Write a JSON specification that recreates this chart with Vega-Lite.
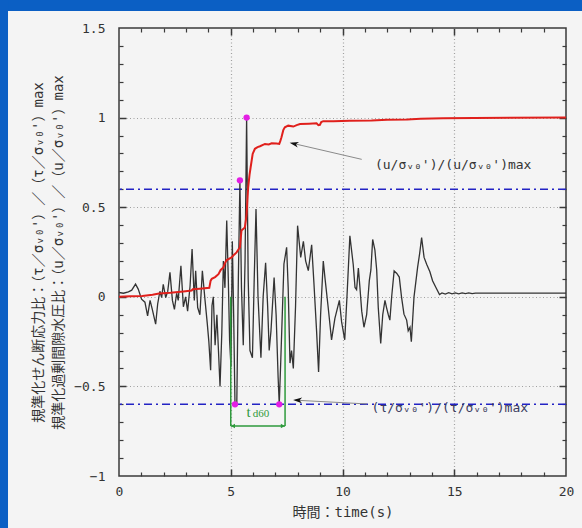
{
  "$schema": "https://vega.github.io/schema/vega-lite/v6.json",
  "width": 447,
  "height": 448,
  "autosize": {"type": "none"},
  "padding": {"left": 119, "top": 28, "right": 16, "bottom": 52},
  "background": "#f4f4f4",
  "config": {
    "view": {"stroke": "#3a3a3a", "strokeWidth": 1.5},
    "axis": {
      "domain": false,
      "grid": false,
      "labels": false,
      "ticks": false,
      "tickColor": "#3a3a3a",
      "gridColor": "#a0a0a0",
      "gridDash": [1, 2.5],
      "gridWidth": 1.2,
      "labelFont": "DejaVu Sans Mono",
      "labelFontSize": 13,
      "labelColor": "#333333",
      "labelFlush": false,
      "labelOverlap": false,
      "titleFont": "DejaVu Sans Mono, Noto Sans CJK JP",
      "titleFontSize": 14,
      "titleFontWeight": "normal",
      "titleColor": "#333333"
    }
  },
  "datasets": {
    "stress": [
      {"t": 0.0, "v": 0.024}, {"t": 0.2, "v": 0.02}, {"t": 0.42, "v": 0.028}, {"t": 0.57, "v": 0.037},
      {"t": 0.74, "v": 0.071}, {"t": 0.86, "v": 0.043}, {"t": 1.01, "v": -0.013}, {"t": 1.16, "v": -0.03},
      {"t": 1.28, "v": -0.106}, {"t": 1.39, "v": -0.02}, {"t": 1.49, "v": -0.07}, {"t": 1.64, "v": -0.153},
      {"t": 1.73, "v": -0.04}, {"t": 1.83, "v": 0.031}, {"t": 1.91, "v": -0.004}, {"t": 1.98, "v": 0.07},
      {"t": 2.09, "v": -0.004}, {"t": 2.18, "v": 0.03}, {"t": 2.28, "v": 0.136}, {"t": 2.39, "v": -0.02},
      {"t": 2.48, "v": -0.07}, {"t": 2.58, "v": 0.02}, {"t": 2.65, "v": -0.02}, {"t": 2.77, "v": 0.173},
      {"t": 2.88, "v": -0.056}, {"t": 2.98, "v": 0.0}, {"t": 3.07, "v": -0.08}, {"t": 3.18, "v": 0.06},
      {"t": 3.27, "v": 0.266}, {"t": 3.37, "v": -0.02}, {"t": 3.43, "v": 0.145}, {"t": 3.52, "v": -0.06},
      {"t": 3.62, "v": -0.1}, {"t": 3.73, "v": 0.145}, {"t": 3.85, "v": -0.02}, {"t": 3.95, "v": -0.15},
      {"t": 4.02, "v": -0.25}, {"t": 4.1, "v": -0.41}, {"t": 4.16, "v": -0.05}, {"t": 4.22, "v": 0.0},
      {"t": 4.3, "v": -0.27}, {"t": 4.38, "v": -0.1}, {"t": 4.45, "v": -0.3}, {"t": 4.52, "v": -0.5},
      {"t": 4.6, "v": -0.2}, {"t": 4.67, "v": 0.2}, {"t": 4.74, "v": 0.05}, {"t": 4.82, "v": 0.425},
      {"t": 4.89, "v": 0.1}, {"t": 4.95, "v": -0.25}, {"t": 5.01, "v": -0.39}, {"t": 5.07, "v": 0.31},
      {"t": 5.13, "v": -0.1}, {"t": 5.19, "v": -0.6}, {"t": 5.27, "v": -0.6}, {"t": 5.34, "v": 0.1},
      {"t": 5.41, "v": 0.645}, {"t": 5.48, "v": 0.05}, {"t": 5.56, "v": -0.27}, {"t": 5.64, "v": 0.2},
      {"t": 5.71, "v": 1.0}, {"t": 5.78, "v": 0.1}, {"t": 5.86, "v": -0.3}, {"t": 5.97, "v": -0.34},
      {"t": 6.05, "v": 0.1}, {"t": 6.13, "v": 0.49}, {"t": 6.22, "v": 0.0}, {"t": 6.35, "v": -0.34},
      {"t": 6.45, "v": 0.0}, {"t": 6.56, "v": 0.19}, {"t": 6.65, "v": -0.05}, {"t": 6.72, "v": -0.3},
      {"t": 6.8, "v": -0.19}, {"t": 6.94, "v": 0.108}, {"t": 7.03, "v": -0.1}, {"t": 7.12, "v": -0.45},
      {"t": 7.17, "v": -0.6}, {"t": 7.24, "v": -0.35}, {"t": 7.38, "v": 0.183}, {"t": 7.5, "v": 0.276},
      {"t": 7.57, "v": 0.05}, {"t": 7.65, "v": -0.37}, {"t": 7.72, "v": -0.3}, {"t": 7.8, "v": -0.4},
      {"t": 7.9, "v": -0.05}, {"t": 7.99, "v": 0.397}, {"t": 8.13, "v": 0.22}, {"t": 8.25, "v": 0.31},
      {"t": 8.35, "v": 0.2}, {"t": 8.47, "v": 0.146}, {"t": 8.62, "v": 0.29}, {"t": 8.72, "v": 0.08},
      {"t": 8.84, "v": -0.19}, {"t": 8.93, "v": -0.42}, {"t": 9.02, "v": -0.1}, {"t": 9.14, "v": 0.2},
      {"t": 9.22, "v": 0.1}, {"t": 9.36, "v": -0.06}, {"t": 9.51, "v": -0.24}, {"t": 9.66, "v": -0.12},
      {"t": 9.86, "v": -0.02}, {"t": 9.96, "v": -0.14}, {"t": 10.1, "v": -0.24}, {"t": 10.2, "v": 0.0},
      {"t": 10.33, "v": 0.34}, {"t": 10.48, "v": 0.18}, {"t": 10.56, "v": 0.052}, {"t": 10.63, "v": 0.04},
      {"t": 10.71, "v": 0.16}, {"t": 10.78, "v": 0.052}, {"t": 10.86, "v": -0.08}, {"t": 10.96, "v": -0.17},
      {"t": 11.08, "v": -0.1}, {"t": 11.2, "v": 0.09}, {"t": 11.27, "v": 0.15}, {"t": 11.35, "v": 0.32},
      {"t": 11.45, "v": 0.26}, {"t": 11.53, "v": 0.15}, {"t": 11.6, "v": -0.06}, {"t": 11.71, "v": -0.26},
      {"t": 11.8, "v": -0.1}, {"t": 11.9, "v": -0.02}, {"t": 11.97, "v": -0.06}, {"t": 12.05, "v": -0.1},
      {"t": 12.12, "v": -0.13}, {"t": 12.2, "v": 0.0}, {"t": 12.31, "v": 0.145}, {"t": 12.43, "v": 0.13},
      {"t": 12.54, "v": 0.11}, {"t": 12.64, "v": 0.0}, {"t": 12.75, "v": -0.097}, {"t": 12.87, "v": -0.13},
      {"t": 12.94, "v": -0.19}, {"t": 13.02, "v": -0.17}, {"t": 13.08, "v": -0.25}, {"t": 13.2, "v": 0.0},
      {"t": 13.36, "v": 0.164}, {"t": 13.45, "v": 0.24}, {"t": 13.54, "v": 0.33}, {"t": 13.65, "v": 0.22},
      {"t": 13.77, "v": 0.18}, {"t": 13.91, "v": 0.14}, {"t": 14.03, "v": 0.09}, {"t": 14.18, "v": 0.052},
      {"t": 14.34, "v": 0.013}, {"t": 14.45, "v": 0.022}, {"t": 14.6, "v": 0.015}, {"t": 14.75, "v": 0.023},
      {"t": 14.9, "v": 0.016}, {"t": 15.05, "v": 0.022}, {"t": 15.2, "v": 0.017}, {"t": 15.35, "v": 0.022},
      {"t": 15.5, "v": 0.018}, {"t": 15.65, "v": 0.022}, {"t": 15.8, "v": 0.018}, {"t": 15.95, "v": 0.021},
      {"t": 20.0, "v": 0.02}
    ],
    "porePressure": [
      {"t": 0.0, "v": 0.0}, {"t": 0.5, "v": 0.003}, {"t": 1.04, "v": 0.005}, {"t": 1.5, "v": 0.012},
      {"t": 1.79, "v": 0.018}, {"t": 2.3, "v": 0.022}, {"t": 2.88, "v": 0.03}, {"t": 3.25, "v": 0.035},
      {"t": 3.3, "v": 0.042}, {"t": 3.62, "v": 0.045}, {"t": 4.04, "v": 0.05}, {"t": 4.1, "v": 0.09},
      {"t": 4.15, "v": 0.1}, {"t": 4.3, "v": 0.11}, {"t": 4.45, "v": 0.126}, {"t": 4.55, "v": 0.15},
      {"t": 4.67, "v": 0.164}, {"t": 4.75, "v": 0.19}, {"t": 4.82, "v": 0.205}, {"t": 5.04, "v": 0.22},
      {"t": 5.15, "v": 0.235}, {"t": 5.26, "v": 0.248}, {"t": 5.35, "v": 0.265}, {"t": 5.41, "v": 0.276},
      {"t": 5.45, "v": 0.33}, {"t": 5.48, "v": 0.37}, {"t": 5.63, "v": 0.387}, {"t": 5.68, "v": 0.43},
      {"t": 5.71, "v": 0.462}, {"t": 5.75, "v": 0.55}, {"t": 5.78, "v": 0.611}, {"t": 5.84, "v": 0.68},
      {"t": 5.89, "v": 0.723}, {"t": 5.98, "v": 0.797}, {"t": 6.08, "v": 0.826}, {"t": 6.2, "v": 0.835},
      {"t": 6.31, "v": 0.84}, {"t": 6.53, "v": 0.853}, {"t": 6.7, "v": 0.85}, {"t": 6.83, "v": 0.857},
      {"t": 7.05, "v": 0.855}, {"t": 7.17, "v": 0.853}, {"t": 7.22, "v": 0.87}, {"t": 7.27, "v": 0.89},
      {"t": 7.35, "v": 0.93}, {"t": 7.42, "v": 0.946}, {"t": 7.57, "v": 0.955}, {"t": 7.8, "v": 0.95},
      {"t": 7.95, "v": 0.958}, {"t": 8.1, "v": 0.964}, {"t": 8.5, "v": 0.966}, {"t": 8.84, "v": 0.968},
      {"t": 8.92, "v": 0.958}, {"t": 8.99, "v": 0.96}, {"t": 9.05, "v": 0.975}, {"t": 9.14, "v": 0.98},
      {"t": 9.59, "v": 0.98}, {"t": 10.33, "v": 0.982}, {"t": 11.3, "v": 0.984}, {"t": 12.0, "v": 0.988},
      {"t": 12.9, "v": 0.99}, {"t": 13.5, "v": 0.994}, {"t": 14.5, "v": 0.997}, {"t": 15.9, "v": 0.998},
      {"t": 20.0, "v": 1.0}
    ],
    "thresholds": [{"r": 0.6}, {"r": -0.6}],
    "peaks": [
      {"t": 5.71, "v": 1.0}, {"t": 5.41, "v": 0.65}, {"t": 5.19, "v": -0.6}, {"t": 7.17, "v": -0.6}
    ],
    "duration": [{"t": 5.0, "t2": 7.43}],
    "durationEnds": [{"t": 5.0}, {"t": 7.43}],
    "one": [{}]
  },
  "resolve": {"axis": {"x": "independent", "y": "independent"}},
  "layer": [
    {
      "data": {"name": "one"},
      "mark": {"type": "rect", "fill": "#0b5fc4"},
      "encoding": {
        "x": {"datum": -6, "type": "quantitative", "scale": {"domain": [0, 20], "nice": false, "zero": false}, "axis": null},
        "x2": {"datum": 21},
        "y": {"datum": 1.595, "type": "quantitative", "scale": {"domain": [-1, 1.5], "nice": false, "zero": false}, "axis": null},
        "y2": {"datum": 1.8}
      }
    },
    {
      "data": {"name": "one"},
      "mark": {"type": "rect", "fill": "#0b5fc4"},
      "encoding": {
        "x": {"datum": -6, "type": "quantitative", "scale": {"domain": [0, 20], "nice": false, "zero": false}, "axis": null},
        "x2": {"datum": -4.966},
        "y": {"datum": -1.5, "type": "quantitative", "scale": {"domain": [-1, 1.5], "nice": false, "zero": false}, "axis": null},
        "y2": {"datum": 1.8}
      }
    },
    {
      "data": {"name": "thresholds"},
      "mark": {"type": "rule", "color": "#2323c4", "strokeWidth": 1.6, "strokeDash": [8, 4, 2, 4]},
      "encoding": {
        "y": {"field": "r", "type": "quantitative", "scale": {"domain": [-1, 1.5], "nice": false, "zero": false},
          "axis": {"orient": "right", "values": [-0.9, -0.8, -0.7, -0.6, -0.4, -0.3, -0.2, -0.1, 0.1, 0.2, 0.3, 0.4, 0.6, 0.7, 0.8, 0.9, 1.1, 1.2, 1.3, 1.4], "ticks": true, "tickSize": -4, "tickWidth": 1.2, "title": null}}
      }
    },
    {
      "data": {"name": "stress"},
      "mark": {"type": "line", "color": "#333333", "strokeWidth": 1.3},
      "encoding": {
        "x": {"field": "t", "type": "quantitative", "scale": {"domain": [0, 20], "nice": false, "zero": false},
          "axis": {"orient": "bottom", "values": [0, 5, 10, 15, 20], "format": "~g", "labels": true, "labelPadding": 9, "title": "時間：time(s)", "titlePadding": 7}},
        "y": {"field": "v", "type": "quantitative", "scale": {"domain": [-1, 1.5], "nice": false, "zero": false},
          "axis": {"orient": "left", "values": [-1, -0.5, 0, 0.5, 1, 1.5], "format": "~g", "labels": true, "labelPadding": 14,
            "title": ["規準化せん断応力比：（τ／σᵥ₀'）／（τ／σᵥ₀'）max", "規準化過剰間隙水圧比：（u／σᵥ₀'）／（u／σᵥ₀'）max"],
            "titleLineHeight": 20, "titlePadding": 8}}
      }
    },
    {
      "data": {"name": "durationEnds"},
      "mark": {"type": "rule", "color": "#2e9a3c", "strokeWidth": 1.5},
      "encoding": {
        "x": {"field": "t", "type": "quantitative", "scale": {"domain": [0, 20], "nice": false, "zero": false},
          "axis": {"orient": "bottom", "values": [1, 2, 3, 4, 6, 7, 8, 9, 11, 12, 13, 14, 16, 17, 18, 19], "ticks": true, "tickSize": -4, "tickWidth": 1.2, "title": null}},
        "y": {"datum": 0, "type": "quantitative", "scale": {"domain": [-1, 1.5], "nice": false, "zero": false}, "axis": null},
        "y2": {"datum": -0.721}
      }
    },
    {
      "data": {"name": "duration"},
      "mark": {"type": "rule", "color": "#2e9a3c", "strokeWidth": 1.5},
      "encoding": {
        "x": {"field": "t", "type": "quantitative", "scale": {"domain": [0, 20], "nice": false, "zero": false},
          "axis": {"orient": "top", "values": [5, 10, 15], "ticks": true, "tickSize": -7, "tickWidth": 1.5, "title": null}},
        "x2": {"field": "t2"},
        "y": {"datum": -0.721, "type": "quantitative", "scale": {"domain": [-1, 1.5], "nice": false, "zero": false}, "axis": null}
      }
    },
    {
      "data": {"name": "porePressure"},
      "mark": {"type": "line", "color": "#e0201c", "strokeWidth": 2},
      "encoding": {
        "x": {"field": "t", "type": "quantitative", "scale": {"domain": [0, 20], "nice": false, "zero": false},
          "axis": {"orient": "bottom", "values": [5, 10, 15], "grid": true, "ticks": true, "tickSize": -7, "tickWidth": 1.5, "title": null}},
        "y": {"field": "v", "type": "quantitative", "scale": {"domain": [-1, 1.5], "nice": false, "zero": false},
          "axis": {"orient": "left", "values": [-0.5, 0, 0.5, 1], "grid": true, "ticks": true, "tickSize": -7, "tickWidth": 1.5, "title": null}}
      }
    },
    {
      "data": {"name": "peaks"},
      "mark": {"type": "point", "shape": "circle", "filled": true, "color": "#e31ee3", "size": 40, "opacity": 1},
      "encoding": {
        "x": {"field": "t", "type": "quantitative", "scale": {"domain": [0, 20], "nice": false, "zero": false},
          "axis": {"orient": "top", "values": [1, 2, 3, 4, 6, 7, 8, 9, 11, 12, 13, 14, 16, 17, 18, 19], "ticks": true, "tickSize": -4, "tickWidth": 1.2, "title": null}},
        "y": {"field": "v", "type": "quantitative", "scale": {"domain": [-1, 1.5], "nice": false, "zero": false},
          "axis": {"orient": "right", "values": [-0.5, 0, 0.5, 1], "ticks": true, "tickSize": -7, "tickWidth": 1.5, "title": null}}
      }
    },
    {
      "data": {"name": "peaks"},
      "mark": {"type": "rule", "color": "#ffffff", "opacity": 0},
      "encoding": {
        "x": {"field": "t", "type": "quantitative", "scale": {"domain": [0, 20], "nice": false, "zero": false}, "axis": null},
        "y": {"field": "v", "type": "quantitative", "scale": {"domain": [-1, 1.5], "nice": false, "zero": false},
          "axis": {"orient": "left", "values": [-0.9, -0.8, -0.7, -0.6, -0.4, -0.3, -0.2, -0.1, 0.1, 0.2, 0.3, 0.4, 0.6, 0.7, 0.8, 0.9, 1.1, 1.2, 1.3, 1.4], "ticks": true, "tickSize": -4, "tickWidth": 1.2, "title": null}}
      }
    },
    {
      "data": {"name": "one"},
      "mark": {"type": "point", "shape": "triangle-left", "filled": true, "color": "#2e9a3c", "size": 22, "opacity": 1},
      "encoding": {
        "x": {"datum": 5.1, "type": "quantitative", "scale": {"domain": [0, 20], "nice": false, "zero": false}, "axis": null},
        "y": {"datum": -0.721, "type": "quantitative", "scale": {"domain": [-1, 1.5], "nice": false, "zero": false}, "axis": null}
      }
    },
    {
      "data": {"name": "one"},
      "mark": {"type": "point", "shape": "triangle-right", "filled": true, "color": "#2e9a3c", "size": 22, "opacity": 1},
      "encoding": {
        "x": {"datum": 7.33, "type": "quantitative", "scale": {"domain": [0, 20], "nice": false, "zero": false}, "axis": null},
        "y": {"datum": -0.721, "type": "quantitative", "scale": {"domain": [-1, 1.5], "nice": false, "zero": false}, "axis": null}
      }
    },
    {
      "data": {"name": "one"},
      "mark": {"type": "text", "text": "t", "font": "Liberation Serif", "fontSize": 15, "color": "#2e9a3c", "align": "left", "baseline": "alphabetic"},
      "encoding": {
        "x": {"datum": 5.7, "type": "quantitative", "scale": {"domain": [0, 20], "nice": false, "zero": false}, "axis": null},
        "y": {"datum": -0.669, "type": "quantitative", "scale": {"domain": [-1, 1.5], "nice": false, "zero": false}, "axis": null}
      }
    },
    {
      "data": {"name": "one"},
      "mark": {"type": "text", "text": "d60", "font": "Liberation Serif", "fontSize": 11, "color": "#2e9a3c", "align": "left", "baseline": "alphabetic"},
      "encoding": {
        "x": {"datum": 5.98, "type": "quantitative", "scale": {"domain": [0, 20], "nice": false, "zero": false}, "axis": null},
        "y": {"datum": -0.669, "type": "quantitative", "scale": {"domain": [-1, 1.5], "nice": false, "zero": false}, "axis": null}
      }
    },
    {
      "data": {"name": "one"},
      "mark": {"type": "rule", "color": "#8a8a8a", "strokeWidth": 1},
      "encoding": {
        "x": {"datum": 10.86, "type": "quantitative", "scale": {"domain": [0, 20], "nice": false, "zero": false}, "axis": null},
        "x2": {"datum": 7.75},
        "y": {"datum": 0.767, "type": "quantitative", "scale": {"domain": [-1, 1.5], "nice": false, "zero": false}, "axis": null},
        "y2": {"datum": 0.857}
      }
    },
    {
      "data": {"name": "one"},
      "mark": {"type": "point", "shape": "M-1,0L1,-0.65L0.45,0L1,0.65Z", "filled": true, "color": "#111111", "size": 80, "angle": 13, "opacity": 1},
      "encoding": {
        "x": {"datum": 7.83, "type": "quantitative", "scale": {"domain": [0, 20], "nice": false, "zero": false}, "axis": null},
        "y": {"datum": 0.854, "type": "quantitative", "scale": {"domain": [-1, 1.5], "nice": false, "zero": false}, "axis": null}
      }
    },
    {
      "data": {"name": "one"},
      "mark": {"type": "rule", "color": "#8a8a8a", "strokeWidth": 1},
      "encoding": {
        "x": {"datum": 11.1, "type": "quantitative", "scale": {"domain": [0, 20], "nice": false, "zero": false}, "axis": null},
        "x2": {"datum": 7.9},
        "y": {"datum": -0.598, "type": "quantitative", "scale": {"domain": [-1, 1.5], "nice": false, "zero": false}, "axis": null},
        "y2": {"datum": -0.577}
      }
    },
    {
      "data": {"name": "one"},
      "mark": {"type": "point", "shape": "M-1,0L1,-0.65L0.45,0L1,0.65Z", "filled": true, "color": "#111111", "size": 80, "angle": 3, "opacity": 1},
      "encoding": {
        "x": {"datum": 7.99, "type": "quantitative", "scale": {"domain": [0, 20], "nice": false, "zero": false}, "axis": null},
        "y": {"datum": -0.577, "type": "quantitative", "scale": {"domain": [-1, 1.5], "nice": false, "zero": false}, "axis": null}
      }
    },
    {
      "data": {"name": "one"},
      "mark": {"type": "text", "text": "(u/σᵥ₀')/(u/σᵥ₀')max", "font": "DejaVu Sans Mono", "fontSize": 13, "color": "#333333", "align": "left", "baseline": "middle"},
      "encoding": {
        "x": {"datum": 11.45, "type": "quantitative", "scale": {"domain": [0, 20], "nice": false, "zero": false}, "axis": null},
        "y": {"datum": 0.737, "type": "quantitative", "scale": {"domain": [-1, 1.5], "nice": false, "zero": false}, "axis": null}
      }
    },
    {
      "data": {"name": "one"},
      "mark": {"type": "text", "text": "(τ/σᵥ₀')/(τ/σᵥ₀')max", "font": "DejaVu Sans Mono", "fontSize": 13, "color": "#3c3c60", "align": "left", "baseline": "middle"},
      "encoding": {
        "x": {"datum": 11.3, "type": "quantitative", "scale": {"domain": [0, 20], "nice": false, "zero": false}, "axis": null},
        "y": {"datum": -0.62, "type": "quantitative", "scale": {"domain": [-1, 1.5], "nice": false, "zero": false}, "axis": null}
      }
    }
  ]
}
